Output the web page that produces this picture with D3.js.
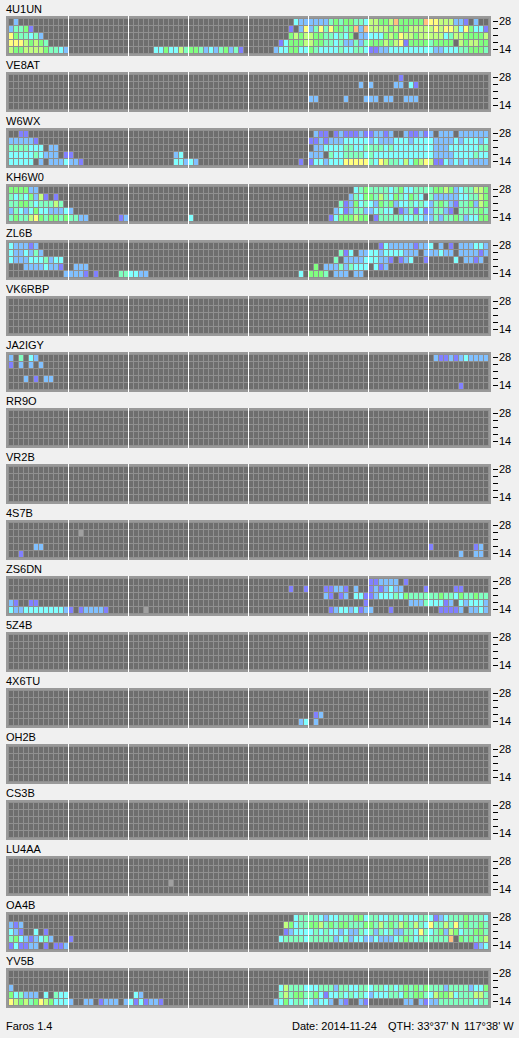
<!DOCTYPE html>
<html><head><meta charset="utf-8">
<style>
html,body{margin:0;padding:0;background:#f0f0f0;}
svg{display:block;}
text{font-family:"Liberation Sans",Arial,sans-serif;font-size:11px;fill:#000;}
</style>
<script src="https://cdnjs.cloudflare.com/ajax/libs/d3/7.8.5/d3.min.js"></script>
</head><body><div id="chart"></div>
<script>
const bands = ["28","24","21","18","14"];
const bandLabels = ["28","","","","14"];
const slotCount = 96;
const sectionSlots = [12,24,36,48,60,72,84];
// level codes: 0 none, 1..8 signal strength, 9 weak/grey
const levelColors = ["#6e6e6e","#8080ff","#80c0ff","#80ffff","#80ffc0","#80ff80","#c0ff80","#ffff80","#ffc080","#a0a0a0"];
// each station: five band rows, each a list of [first slot, level codes]
const sig4U1UN = [
 [[1,"2"],[57,"3222222"+"45455443"+"665568555558"+"776662210200"]],
 [[0,"24451"],[56,"1027"+"247475545828"+"666656556666"+"676776375331"]],
 [[0,"7544342"],[56,"5656"+"655443435022"+"333565766566"+"666346655556"]],
 [[0,"77765654"],[54,"135556"+"655443422424"+"555656715555"+"455550656655"]],
 [[0,"655666654432"],[29,"335336455423245241"],[53,"2335533"+"543333433443"+"112233333333"+"322333445554"]]
];
const sigVE8AT = [
 [[78,"1"]],
 [[70,"2"],[72,"2"],[77,"22"],[80,"31"]],
 [],
 [[60,"22"],[67,"2"],[71,"222"],[75,"22"],[79,"222"]],
 []
];
const sigW6WX = [
 [[2,"11"],[61,"21101211121"+"122120021121"+"202220222222"]],
 [[0,"222221"],[60,"112122233333"+"232223332333"+"322223233323"]],
 [[0,"4444333022"],[61,"22333344334"+"444343333333"+"322233333344"]],
 [[0,"3333343222011"],[33,"23"],[60,"222043344443"+"433333333333"+"322223333433"]],
 [[0,"333330202223221"],[33,"33232"],[58,"10"+"133233377777"+"437644363567"+"611323232222"]]
];
const sigKH6WO = [
 [[0,"555522"],[69,"345"+"444434533444"+"455652344665"]],
 [[0,"4343526101"],[68,"2435"+"546435435430"+"422222334465"]],
 [[0,"44554344464"],[66,"412534"+"325452334343"+"245421445265"]],
 [[0,"2432353322232"],[65,"2312442"+"234330124131"+"244210444454"]],
 [[0,"4544675455454422"],[22,"12"],[36,"3"],[64,"13555655"+"014444433432"+"242445423355"]]
];
const sigZL6B = [
 [[0,"322212"],[74,"1322222122"+"302010222332"]],
 [[0,"3223242"],[66,"413022"+"332333322202"+"223220222212"]],
 [[0,"32223334233"],[65,"4022223"+"332210123001"+"000003022120"]],
 [[3,"22223221"],[13,"222"],[61,"502224243330312"]],
 [[11,"22221"],[17,"1"],[22,"443322"],[58,"3"],[60,"55540222022"]]
];
const sigVK6RBP = [[],[],[],[],[]];
const sigJA2IGY = [
 [[0,"2"],[2,"4"],[4,"32"],[85,"21121232222"]],
 [[0,"1"],[2,"2"],[4,"2"],[6,"2"]],
 [],
 [[3,"2"],[5,"1"],[7,"22"]],
 [[90,"1"]]
];
const sigRR9O = [[],[],[],[],[]];
const sigVR2B = [[],[],[],[],[]];
const sig4S7B = [
 [],
 [[14,"9"]],
 [],
 [[5,"22"],[84,"1"],[93,"12"]],
 [[2,"1"],[90,"2"],[93,"22"]]
];
const sigZS6DN = [
 [[72,"112222"],[79,"1"]],
 [[56,"1"],[59,"1"],[63,"11221"],[69,"2"],[72,"1212322"],[83,"1"],[89,"11"]],
 [[63,"21"],[66,"12"],[69,"3311"],[73,"23334354444445443544544"]],
 [[0,"21"],[4,"11"],[71,"1"],[80,"2224333120323332"]],
 [[0,"3223333333321"],[14,"122221"],[27,"9"],[64,"123323122"],[76,"1"],[86,"1111202232"]]
];
const sig5Z4B = [[],[],[],[],[]];
const sig4X6TU = [
 [],[],[],
 [[61,"12"]],
 [[58,"23"],[61,"2"]]
];
const sigOH2B = [[],[],[],[],[]];
const sigCS3B = [[],[],[],[],[]];
const sigLU4AA = [[],[],[],[[32,"9"]],[]];
const sigOA4B = [
 [[57,"344"+"443233444553"+"443344343344"+"312344454443"]],
 [[0,"212"],[55,"65344"+"556454554445"+"546454654643"+"744647454454"]],
 [[0,"321"],[5,"3"],[7,"1"],[55,"12333"+"343433232243"+"424342244374"+"345265344554"]],
 [[0,"453212342"],[12,"1"],[54,"344443"+"444442342332"+"232223454344"+"444480545456"]],
 [[0,"131122010112"],[93,"123"]]
];
const sigYV5B = [
 [],
 [],
 [[0,"2"],[54,"364443"+"334442443344"+"344343454545"+"444244442335"]],
 [[0,"534222030433"],[25,"32"],[54,"464554"+"453133434343"+"233344354554"+"365563444664"]],
 [[0,"7656457653332"],[15,"22"],[18,"1222"],[23,"23131221"],[53,"2353443"+"323320210021"],[79,"22021"+"224444444344"]]
];
const stations = ["4U1UN","VE8AT","W6WX","KH6W0","ZL6B","VK6RBP","JA2IGY","RR9O","VR2B","4S7B","ZS6DN","5Z4B","4X6TU","OH2B","CS3B","LU4AA","OA4B","YV5B"];
const signals = [sig4U1UN,sigVE8AT,sigW6WX,sigKH6WO,sigZL6B,sigVK6RBP,sigJA2IGY,sigRR9O,sigVR2B,sig4S7B,sigZS6DN,sig5Z4B,sig4X6TU,sigOH2B,sigCS3B,sigLU4AA,sigOA4B,sigYV5B];
const footerLeft = "Faros 1.4";
const footerDate = "Date: 2014-11-24";
const footerQth = "QTH: 33°37' N";
const footerLon = "117°38' W";

const W = 519, H = 1038;
const svg = d3.select("#chart").append("svg").attr("width",W).attr("height",H);
svg.append("rect").attr("width",W).attr("height",H).attr("fill","#f0f0f0");

const x = d3.scaleLinear().domain([0,slotCount]).range([9,489]);
const y = d3.scalePoint().domain(bands).range([5,33]);
const panelY = d3.scaleLinear().domain([0,stations.length]).range([16,16+56*stations.length]);
const color = d3.scaleOrdinal().domain(d3.range(10)).range(levelColors);
const yAxis = d3.axisRight(y).tickSize(5).tickPadding(1)
  .tickFormat((d,i)=>bandLabels[i]);

function toGrid(sig){
  const g = bands.map(()=>new Array(slotCount).fill(0));
  sig.forEach((runs,r)=>runs.forEach(([s,codes])=>{
    for(let i=0;i<codes.length;i++) if(s+i<slotCount) g[r][s+i]=+codes[i];
  }));
  const out=[];
  g.forEach((row,r)=>row.forEach((v,c)=>out.push({band:bands[r],slot:c,level:v})));
  return out;
}

stations.forEach((name,i)=>{
  const g = svg.append("g").attr("transform",`translate(0,${panelY(i)})`);
  g.append("text").attr("x",6).attr("y",-3).text(name);
  g.append("rect").attr("x",6).attr("y",0).attr("width",485).attr("height",40).attr("fill","#999999");
  g.append("rect").attr("x",x(0)-1).attr("y",y(bands[0])-3)
    .attr("width",x(slotCount)-x(0)+1).attr("height",y(bands[4])-y(bands[0])+8).attr("fill","#909090");
  g.selectAll("rect.cell").data(toGrid(signals[i])).join("rect")
    .attr("class","cell")
    .attr("x",d=>x(d.slot))
    .attr("y",d=>y(d.band)-2)
    .attr("width",d=>x(d.slot+1)-x(d.slot)-1)
    .attr("height",6)
    .attr("fill",d=>color(d.level))
    .attr("shape-rendering","crispEdges");
  g.selectAll("rect.sec").data(sectionSlots).join("rect")
    .attr("class","sec")
    .attr("x",d=>x(d)-1).attr("y",0).attr("width",1).attr("height",40)
    .attr("fill","#ffffff");
  const ax = g.append("g").attr("transform","translate(493,0)").call(yAxis);
  ax.select(".domain").remove();
  ax.selectAll("line").attr("stroke","#000");
  ax.attr("font-family",null).attr("font-size",null);
});

svg.append("text").attr("x",6).attr("y",1030).text(footerLeft);
svg.append("text").attr("x",292).attr("y",1030).text(footerDate);
svg.append("text").attr("x",388).attr("y",1030).text(footerQth);
svg.append("text").attr("x",464).attr("y",1030).text(footerLon);
</script></body></html>
